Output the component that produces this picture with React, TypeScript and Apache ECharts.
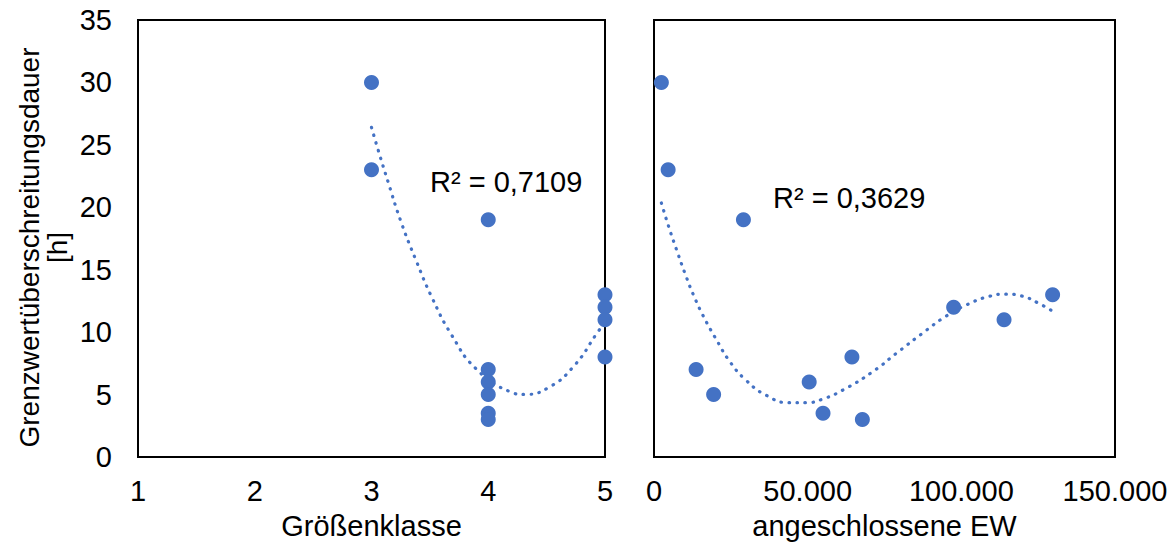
import React, { useEffect, useRef } from 'react';
import * as echarts from 'echarts';

// Left panel: Größenklasse vs duration
const SIZE_CLASS = [3, 3, 4, 4, 4, 4, 4, 4, 5, 5, 5, 5];
const DURATION_BY_CLASS = [30, 23, 19, 7, 6, 5, 3.5, 3, 13, 12, 11, 8];

// Right panel: connected population equivalents vs duration
const EW = [2400, 4600, 13700, 19400, 29100, 50500, 55000, 64400, 67800, 97500, 113900, 129700];
const DURATION_BY_EW = [30, 23, 7, 5, 19, 6, 3.5, 8, 3, 12, 11, 13];

// Trendlines (Excel polynomial trendlines)
const TREND_LEFT_X = [3, 3.058, 3.144, 3.253, 3.381, 3.518, 3.684, 3.895, 4.186, 4.309, 4.514, 4.729, 4.934, 5];
const TREND_LEFT_Y = [26.4, 24.56, 21.97, 18.83, 15.76, 12.77, 9.81, 7.07, 5.23, 5.01, 5.55, 7.23, 9.95, 10.8];
const TREND_RIGHT_X = [2400, 4800, 7400, 10100, 13100, 16500, 20400, 24700, 29900, 36400, 43900, 49400, 54600, 61800, 71000, 79500, 88000, 94700, 101500, 109300, 114500, 119600, 124700, 129700];
const TREND_RIGHT_Y = [20.35, 18.43, 16.56, 14.69, 12.83, 11.07, 9.36, 7.63, 6.16, 4.96, 4.35, 4.35, 4.61, 5.41, 6.8, 8.43, 10.03, 11.23, 12.16, 12.88, 13.04, 12.9, 12.37, 11.68];

const R2_LEFT = 'R² = 0,7109';
const R2_RIGHT = 'R² = 0,3629';
const Y_NAME = 'Grenzwertüberschreitungsdauer\n[h]';
const X_NAME_LEFT = 'Größenklasse';
const X_NAME_RIGHT = 'angeschlossene EW';

const BLUE = '#4472C4';
const FONT = '"Liberation Sans", Arial, sans-serif';
const FS = 29;

const zip = (a: number[], b: number[]) => a.map((v, i) => [v, b[i]]);
const de = (v: number) => String(v).replace(/\B(?=(\d{3})+(?!\d))/g, '.');

export default function App() {
  const ref = useRef<HTMLDivElement>(null);
  useEffect(() => {
    const chart = echarts.init(ref.current!, undefined, { renderer: 'svg' });
    const labelStyle = { color: '#000', fontSize: FS, fontFamily: FONT };
    const yBase = {
      type: 'value' as const,
      min: 0,
      max: 35,
      interval: 5,
      splitLine: { show: false },
      axisLine: { show: false },
      axisTick: { show: false },
    };
    const dotted = { color: BLUE, width: 3.2, type: [0.5, 7.5], cap: 'round' };
    const marker = { color: BLUE, opacity: 1 };
    chart.setOption({
      animation: false,
      backgroundColor: '#fff',
      textStyle: { fontFamily: FONT },
      grid: [
        { left: 138, top: 20, width: 467, height: 437, show: true, borderColor: '#000', borderWidth: 2, backgroundColor: 'transparent' },
        { left: 654, top: 20, width: 461, height: 437, show: true, borderColor: '#000', borderWidth: 2, backgroundColor: 'transparent' },
      ],
      xAxis: [
        {
          gridIndex: 0, type: 'value', min: 1, max: 5, interval: 1,
          splitLine: { show: false }, axisLine: { show: false }, axisTick: { show: false },
          axisLabel: { ...labelStyle, margin: 19 },
          name: X_NAME_LEFT, nameLocation: 'middle', nameGap: 54, nameTextStyle: labelStyle,
        },
        {
          gridIndex: 1, type: 'value', min: 0, max: 150000, interval: 50000,
          splitLine: { show: false }, axisLine: { show: false }, axisTick: { show: false },
          axisLabel: { ...labelStyle, margin: 19, formatter: (v: number) => de(v) },
          name: X_NAME_RIGHT, nameLocation: 'middle', nameGap: 54, nameTextStyle: labelStyle,
        },
      ],
      yAxis: [
        {
          ...yBase, gridIndex: 0,
          axisLabel: { ...labelStyle, margin: 26 },
          name: Y_NAME, nameLocation: 'middle', nameRotate: 90, nameGap: 67,
          nameTextStyle: { ...labelStyle, fontSize: 28, lineHeight: 28, padding: [0, 18, 0, 0] },
        },
        { ...yBase, gridIndex: 1, axisLabel: { show: false } },
      ],
      series: [
        {
          type: 'line', xAxisIndex: 0, yAxisIndex: 0, data: zip(TREND_LEFT_X, TREND_LEFT_Y),
          smooth: true, showSymbol: false, lineStyle: dotted, z: 1,
        },
        {
          type: 'line', xAxisIndex: 1, yAxisIndex: 1, data: zip(TREND_RIGHT_X, TREND_RIGHT_Y),
          smooth: true, showSymbol: false, lineStyle: dotted, z: 1,
        },
        {
          type: 'scatter', xAxisIndex: 0, yAxisIndex: 0, data: zip(SIZE_CLASS, DURATION_BY_CLASS),
          symbolSize: 15, itemStyle: marker, z: 3,
        },
        {
          type: 'scatter', xAxisIndex: 1, yAxisIndex: 1, data: zip(EW, DURATION_BY_EW),
          symbolSize: 15, itemStyle: marker, z: 3,
        },
      ],
      graphic: [
        { type: 'text', left: 430, top: 167, style: { text: R2_LEFT, fill: '#000', font: `${FS}px ${FONT}` } },
        { type: 'text', left: 773, top: 183, style: { text: R2_RIGHT, fill: '#000', font: `${FS}px ${FONT}` } },
      ],
    });
    return () => chart.dispose();
  }, []);
  return <div ref={ref} style={{ position: 'fixed', left: 0, top: 0, width: 1174, height: 550, background: '#fff' }} />;
}
